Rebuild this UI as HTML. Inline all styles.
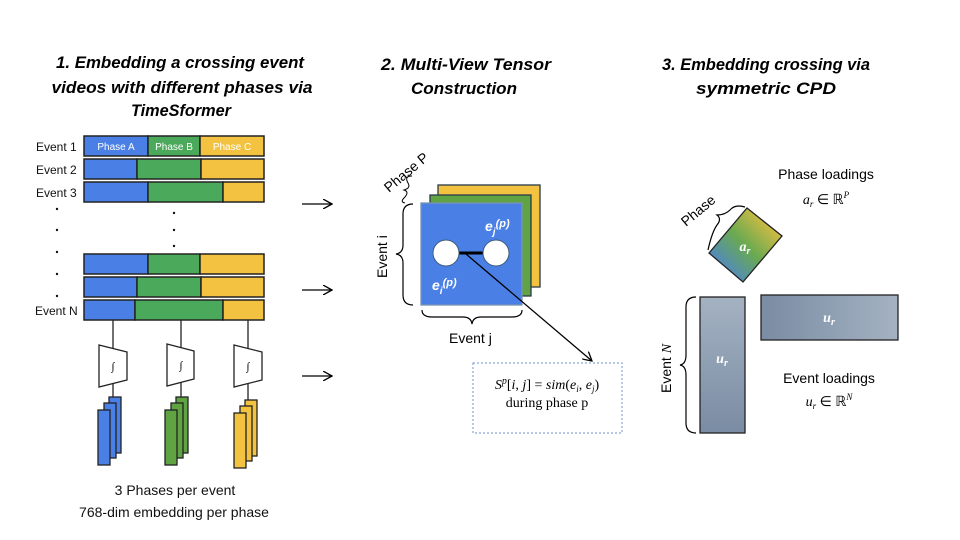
<!DOCTYPE html>
<html><head><meta charset="utf-8"><style>
html,body{margin:0;padding:0;background:#fff;}
svg{display:block;}
text{font-family:"Liberation Sans",sans-serif;}
.t{font-weight:bold;font-style:italic;font-size:17px;}
.s{font-family:"Liberation Serif",serif;}
</style></head><body>
<svg width="960" height="540" viewBox="0 0 960 540" xmlns="http://www.w3.org/2000/svg">
<defs>
<marker id="ah" markerWidth="10" markerHeight="10" refX="9" refY="5" orient="auto" markerUnits="userSpaceOnUse">
<path d="M0,0 L9,5 L0,10" fill="none" stroke="#000" stroke-width="1.3"/></marker>
<linearGradient id="ga" x1="0" y1="1" x2="1" y2="0"><stop offset="0.1" stop-color="#4a80e0"/><stop offset="0.5" stop-color="#6aaa50"/><stop offset="0.9" stop-color="#f0c040"/></linearGradient>
<linearGradient id="gv" x1="0" y1="0" x2="0" y2="1"><stop offset="0" stop-color="#a4b2c2"/><stop offset="1" stop-color="#7a8ca3"/></linearGradient>
<linearGradient id="gh" x1="0" y1="0" x2="1" y2="0"><stop offset="0" stop-color="#7a8ca3"/><stop offset="1" stop-color="#a4b2c2"/></linearGradient>
</defs>

<text class="t" x="180" y="68" text-anchor="middle" textLength="248" lengthAdjust="spacingAndGlyphs">1. Embedding a crossing event</text>
<text class="t" x="182" y="93" text-anchor="middle" textLength="261" lengthAdjust="spacingAndGlyphs">videos with different phases via</text>
<text class="t" x="181" y="116" text-anchor="middle" textLength="100" lengthAdjust="spacingAndGlyphs">TimeSformer</text>
<text class="t" x="466" y="70" text-anchor="middle" textLength="170" lengthAdjust="spacingAndGlyphs">2. Multi-View Tensor</text>
<text class="t" x="464" y="94" text-anchor="middle" textLength="106" lengthAdjust="spacingAndGlyphs">Construction</text>
<text class="t" x="766" y="70" text-anchor="middle" textLength="208" lengthAdjust="spacingAndGlyphs">3. Embedding crossing via</text>
<text class="t" x="766" y="94" text-anchor="middle" textLength="140" lengthAdjust="spacingAndGlyphs">symmetric CPD</text>

<g stroke="#222" stroke-width="1.5">
<rect x="84" y="136" width="64" height="20" fill="#4a80e6"/><rect x="148" y="136" width="52" height="20" fill="#4aa95a"/><rect x="200" y="136" width="64" height="20" fill="#f3c240"/>
<rect x="84" y="159" width="53" height="20" fill="#4a80e6"/><rect x="137" y="159" width="64" height="20" fill="#4aa95a"/><rect x="201" y="159" width="63" height="20" fill="#f3c240"/>
<rect x="84" y="182" width="64" height="20" fill="#4a80e6"/><rect x="148" y="182" width="75" height="20" fill="#4aa95a"/><rect x="223" y="182" width="41" height="20" fill="#f3c240"/>
<rect x="84" y="254" width="64" height="20" fill="#4a80e6"/><rect x="148" y="254" width="52" height="20" fill="#4aa95a"/><rect x="200" y="254" width="64" height="20" fill="#f3c240"/>
<rect x="84" y="277" width="53" height="20" fill="#4a80e6"/><rect x="137" y="277" width="64" height="20" fill="#4aa95a"/><rect x="201" y="277" width="63" height="20" fill="#f3c240"/>
<rect x="84" y="300" width="51" height="20" fill="#4a80e6"/><rect x="135" y="300" width="88" height="20" fill="#4aa95a"/><rect x="223" y="300" width="41" height="20" fill="#f3c240"/>
</g>
<g font-size="10" fill="#fff" text-anchor="middle"><text x="116" y="150">Phase A</text><text x="174" y="150">Phase B</text><text x="232" y="150">Phase C</text></g>
<g font-size="12" fill="#111"><text x="36" y="151">Event 1</text><text x="36" y="174">Event 2</text><text x="36" y="197">Event 3</text><text x="35" y="315">Event N</text></g>
<g fill="#111"><circle cx="57" cy="209" r="1.2"/><circle cx="57" cy="230" r="1.2"/><circle cx="57" cy="252" r="1.2"/><circle cx="57" cy="274" r="1.2"/><circle cx="57" cy="296" r="1.2"/>
<circle cx="174" cy="213" r="1.2"/><circle cx="174" cy="230" r="1.2"/><circle cx="174" cy="246" r="1.2"/></g>

<g stroke="#222" stroke-width="1.3" fill="#fff">
<line x1="113" y1="320" x2="113" y2="397"/><line x1="181" y1="320" x2="181" y2="397"/><line x1="248" y1="320" x2="248" y2="400"/>
<path d="M99,345 L127,352 L127,380 L99,387Z"/><path d="M167,344 L194,351 L194,379 L167,386Z"/><path d="M234,345 L262,352 L262,380 L234,387Z"/>
</g>
<g font-size="11" font-style="italic" text-anchor="middle"><text x="113" y="370" class="s">∫</text><text x="181" y="369" class="s">∫</text><text x="248" y="370" class="s">∫</text></g>
<g stroke="#222" stroke-width="1.3">
<rect x="109" y="397" width="12" height="56" fill="#4a80e6"/><rect x="104" y="403" width="12" height="55" fill="#4a80e6"/><rect x="98" y="410" width="12" height="55" fill="#4a80e6"/>
<rect x="176" y="397" width="12" height="56" fill="#5fa342"/><rect x="171" y="403" width="12" height="55" fill="#5fa342"/><rect x="165" y="410" width="12" height="55" fill="#5fa342"/>
<rect x="245" y="400" width="12" height="56" fill="#f3c240"/><rect x="240" y="406" width="12" height="55" fill="#f3c240"/><rect x="234" y="413" width="12" height="55" fill="#f3c240"/>
</g>
<g font-size="14" fill="#111" text-anchor="middle"><text x="175" y="495">3 Phases per event</text><text x="174" y="517">768-dim embedding per phase</text></g>

<g stroke="#000" stroke-width="1.3" marker-end="url(#ah)"><line x1="302" y1="204" x2="332" y2="204"/><line x1="302" y1="290" x2="332" y2="290"/><line x1="302" y1="376" x2="332" y2="376"/></g>

<g stroke="#2a3a4a" stroke-width="1.3">
<rect x="438" y="185" width="102" height="102" fill="#f3c240"/>
<rect x="430" y="195" width="101" height="101" fill="#5fa342"/>
<rect x="421" y="203" width="101" height="102" fill="#4a80e6" stroke="#7a93b0"/>
</g>
<line x1="458" y1="253" x2="484" y2="253" stroke="#000" stroke-width="3"/>
<circle cx="446" cy="253" r="13" fill="#fff" stroke="#3a5a7a"/><circle cx="496" cy="253" r="13" fill="#fff" stroke="#3a5a7a"/>
<line x1="466" y1="254" x2="592" y2="361" stroke="#000" stroke-width="1.3" marker-end="url(#ah)"/>
<g fill="#fff" font-weight="bold" font-style="italic" font-size="14"><text x="485" y="231">e<tspan font-size="10" dy="4">j</tspan><tspan font-size="11" dy="-8">(p)</tspan></text>
<text x="432" y="290">e<tspan font-size="10" dy="4">i</tspan><tspan font-size="11" dy="-8">(p)</tspan></text></g>
<g fill="none" stroke="#000" stroke-width="1.2">
<path d="M413,204 Q403,204 403,214 L403,245 Q403,253 396,254 Q403,255 403,263 L403,295 Q403,305 413,305"/>
<path d="M422,310 Q422,317 432,317 L463,317 Q471,317 472,324 Q473,317 481,317 L512,317 Q522,317 522,310"/>
<path d="M412,176 Q404,176 408,183 Q411,188 404,190 Q410,192 404,198 Q400,202 405,203" stroke-width="1"/>
</g>
<text x="0" y="0" font-size="14" transform="translate(389,193) rotate(-40)">Phase P</text>
<text x="0" y="0" font-size="14" transform="translate(387,278) rotate(-90)">Event i</text>
<text x="449" y="343" font-size="14">Event j</text>
<rect x="473" y="363" width="149" height="70" fill="none" stroke="#8aa6d8" stroke-width="1.2" stroke-dasharray="2,2"/>
<text x="547" y="389" text-anchor="middle" font-size="14" class="s"><tspan font-style="italic">S<tspan font-size="10" dy="-5">p</tspan></tspan><tspan dy="5">[<tspan font-style="italic">i</tspan>, <tspan font-style="italic">j</tspan>] = <tspan font-style="italic">sim</tspan>(<tspan font-style="italic">e<tspan font-size="9" dy="3">i</tspan></tspan><tspan dy="-3">, </tspan><tspan font-style="italic">e<tspan font-size="9" dy="3">j</tspan></tspan><tspan dy="-3">)</tspan></tspan></text>
<text x="547" y="407" text-anchor="middle" font-size="14" class="s">during phase p</text>

<path d="M747,208 L782,236 L743,282 L709,253Z" fill="url(#ga)" stroke="#222" stroke-width="1.3"/>
<text x="745" y="251" text-anchor="middle" fill="#fff" font-size="14" font-weight="bold" font-style="italic" class="s">a<tspan font-size="10" dy="3">r</tspan></text>
<path d="M745,207 Q735,204 730,210 Q725,215 717,215 Q722,219 717,225 Q712,232 708,250" fill="none" stroke="#000" stroke-width="1.2"/>
<text x="0" y="0" font-size="14" transform="translate(686,227) rotate(-40)">Phase</text>
<text x="826" y="179" text-anchor="middle" font-size="14">Phase loadings</text>
<text x="826" y="204" text-anchor="middle" font-size="14" class="s"><tspan font-style="italic">a<tspan font-size="9" dy="3">r</tspan></tspan><tspan dy="-3"> ∈ ℝ</tspan><tspan font-size="9" dy="-6" font-style="italic">P</tspan></text>
<rect x="700" y="297" width="45" height="136" fill="url(#gv)" stroke="#222" stroke-width="1.3"/>
<rect x="761" y="295" width="137" height="45" fill="url(#gh)" stroke="#222" stroke-width="1.3"/>
<text x="722" y="363" text-anchor="middle" fill="#fff" font-size="14" font-weight="bold" font-style="italic" class="s">u<tspan font-size="10" dy="3">r</tspan></text>
<text x="829" y="322" text-anchor="middle" fill="#fff" font-size="14" font-weight="bold" font-style="italic" class="s">u<tspan font-size="10" dy="3">r</tspan></text>
<path d="M696,297 Q686,297 686,307 L686,355 Q686,364 680,365 Q686,366 686,375 L686,423 Q686,433 696,433" fill="none" stroke="#000" stroke-width="1.2"/>
<text x="0" y="0" font-size="14" transform="translate(671,393) rotate(-90)">Event <tspan font-style="italic" class="s">N</tspan></text>
<text x="829" y="383" text-anchor="middle" font-size="14">Event loadings</text>
<text x="829" y="406" text-anchor="middle" font-size="14" class="s"><tspan font-style="italic">u<tspan font-size="9" dy="3">r</tspan></tspan><tspan dy="-3"> ∈ ℝ</tspan><tspan font-size="9" dy="-6" font-style="italic">N</tspan></text>
</svg>
</body></html>
